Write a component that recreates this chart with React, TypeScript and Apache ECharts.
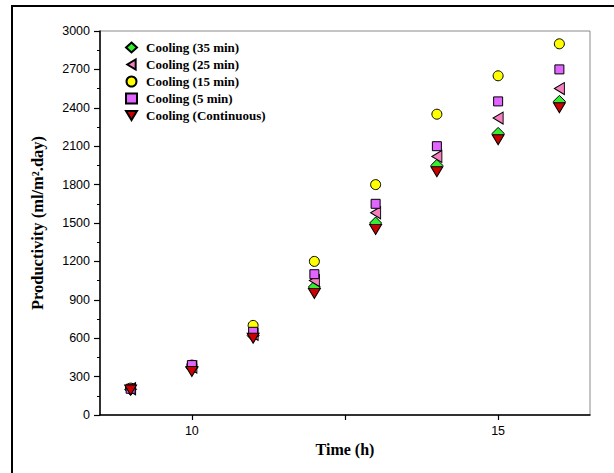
import React, { useEffect, useRef } from "react";
import * as echarts from "echarts";

const hours = [9, 10, 11, 12, 13, 14, 15, 16];
const cooling35 = [200, 370, 620, 1000, 1500, 1950, 2200, 2450];
const cooling25 = [205, 375, 630, 1050, 1580, 2020, 2320, 2550];
const cooling15 = [210, 390, 700, 1200, 1800, 2350, 2650, 2900];
const cooling5 = [205, 390, 650, 1100, 1650, 2100, 2450, 2700];
const coolingCont = [195, 340, 600, 950, 1450, 1900, 2150, 2400];
const seriesNames = [
  "Cooling (35 min)",
  "Cooling (25 min)",
  "Cooling (15 min)",
  "Cooling (5 min)",
  "Cooling (Continuous)",
];
const xLabelValues = [10, 15];
const xTickValues = [10, 12.5, 15];

const pair = (ys: number[]) => hours.map((h, i) => [h, ys[i]]);

export default function App() {
  const ref = useRef<HTMLDivElement>(null);
  useEffect(() => {
    if (!ref.current) return;
    const chart = echarts.init(ref.current, null, { renderer: "svg" });
    const border = { borderColor: "#000", borderWidth: 1 };
    const mk = (
      name: string,
      data: number[],
      symbol: string,
      size: number | number[],
      color: string
    ) => ({
      name,
      type: "scatter",
      data: pair(data),
      symbol,
      symbolSize: size,
      itemStyle: { color, ...border, opacity: 1 },
      emphasis: { disabled: true },
    });
    chart.setOption({
      animation: false,
      grid: {
        left: 100,
        top: 31,
        right: 24,
        bottom: 58,
        show: true,
        borderColor: "#8a8a8a",
        borderWidth: 1,
        backgroundColor: "transparent",
      },
      graphic: [
        {
          type: "rect",
          shape: { x: 12, y: 6, width: 700, height: 600 },
          style: { fill: "none", stroke: "#000", lineWidth: 2 },
          silent: true,
        },
      ],
      legend: {
        orient: "vertical",
        left: 120,
        top: 35,
        itemWidth: 11,
        itemHeight: 10,
        itemGap: 2,
        data: seriesNames,
        textStyle: {
          fontFamily: "Liberation Serif",
          fontWeight: "bold",
          fontSize: 13,
          lineHeight: 15,
          color: "#000",
          padding: [0, 0, 0, 4],
        },
      },
      xAxis: {
        type: "value",
        min: 8.5,
        max: 16.5,
        name: "Time (h)",
        nameLocation: "middle",
        nameGap: 23,
        nameTextStyle: {
          fontFamily: "Liberation Serif",
          fontWeight: "bold",
          fontSize: 16,
          color: "#000",
        },
        axisLine: { show: true, onZero: false, lineStyle: { color: "#000", width: 1.5 } },
        axisTick: {
          show: true,
          inside: false,
          length: 5,
          customValues: xTickValues,
          lineStyle: { color: "#000", width: 1.2 },
        },
        axisLabel: {
          customValues: xLabelValues,
          margin: 9,
          fontFamily: "Liberation Sans",
          fontSize: 12.5,
          color: "#000",
        },
        splitLine: { show: false },
      },
      yAxis: {
        type: "value",
        min: 0,
        max: 3000,
        interval: 300,
        name: "Productivity (ml/m².day)",
        nameLocation: "middle",
        nameGap: 54,
        nameTextStyle: {
          fontFamily: "Liberation Serif",
          fontWeight: "bold",
          fontSize: 16.5,
          color: "#000",
        },
        axisLine: { show: true, onZero: false, lineStyle: { color: "#000", width: 1.5 } },
        axisTick: { show: true, inside: false, length: 6, lineStyle: { color: "#000", width: 1.2 } },
        minorTick: { show: true, splitNumber: 2, length: 3, lineStyle: { color: "#000", width: 1 } },
        axisLabel: {
          margin: 10,
          fontFamily: "Liberation Sans",
          fontSize: 12.5,
          color: "#000",
          formatter: (v: number) => String(v),
        },
        splitLine: { show: false },
      },
      series: [
        mk(seriesNames[0], cooling35, "diamond", [12, 12], "#33ee33"),
        mk(seriesNames[1], cooling25, "path://M10,0L10,12L0,6Z", [10, 12], "#f77fc0"),
        mk(seriesNames[2], cooling15, "circle", 10, "#ffff00"),
        mk(seriesNames[3], cooling5, "rect", 9, "#e066ff"),
        mk(seriesNames[4], coolingCont, "path://M0,0L12,0L6,10Z", [12, 10], "#cc0000"),
      ],
    });
    return () => chart.dispose();
  }, []);
  return (
    <div
      ref={ref}
      style={{ position: "fixed", left: 0, top: 0, width: 614, height: 473, background: "#fff" }}
    />
  );
}
